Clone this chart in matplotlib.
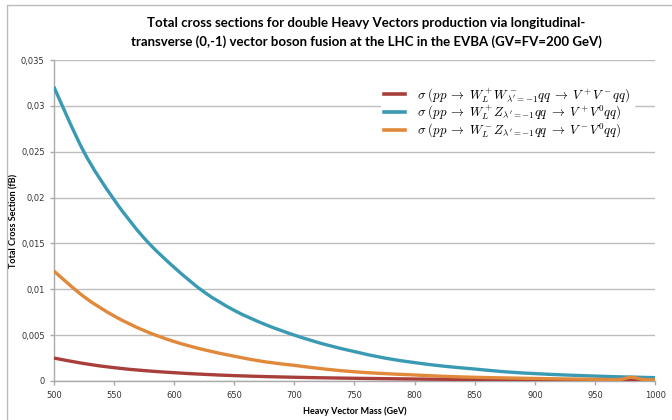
import matplotlib
matplotlib.use("Agg")
import matplotlib.pyplot as plt
import numpy as np
from matplotlib.lines import Line2D
from matplotlib.patches import PathPatch, Rectangle
from matplotlib.path import Path
from matplotlib.ticker import FuncFormatter, MultipleLocator

plt.rcParams['mathtext.fontset'] = 'cm'

# values (GeV, fb)
mass = [500, 525, 550, 575, 600, 625, 650, 675, 700, 725, 750,
        775, 800, 825, 850, 875, 900, 925, 950, 970, 980, 990, 1000]
sigma_ww = [0.0025, 0.0019, 0.00145, 0.00113, 0.0009, 0.00072, 0.00058,
            0.00048, 0.0004, 0.00034, 0.00029, 0.00025, 0.00021, 0.00018,
            0.00016, 0.00014, 0.00012, 0.00011, 0.0001, 0.00009, 0.00009,
            0.00008, 0.00008]
sigma_wz_plus = [0.0321, 0.0250, 0.0198, 0.0156, 0.0124, 0.0097, 0.0077,
                 0.0062, 0.0050, 0.0040, 0.0032, 0.0025, 0.0020, 0.0016,
                 0.0013, 0.0010, 0.0008, 0.00065, 0.00053, 0.00045, 0.00042,
                 0.00039, 0.00036]
sigma_wz_minus = [0.0120, 0.0092, 0.0071, 0.0055, 0.0043, 0.0034, 0.0027,
                  0.0021, 0.0017, 0.0013, 0.0010, 0.0008, 0.00065, 0.0005,
                  0.0004, 0.00033, 0.00027, 0.00022, 0.00018, 0.00016, 0.0004,
                  0.00016, 0.00012]

labels = [
    r"$\sigma\;(pp \;\rightarrow\; W_L^+ W^-_{\lambda'=-1}qq \;\rightarrow\; V^+V^-qq)$",
    r"$\sigma\;(pp \;\rightarrow\; W_L^+ Z_{\lambda'=-1}qq \;\rightarrow\; V^+V^0qq)$",
    r"$\sigma\;(pp \;\rightarrow\; W_L^- Z_{\lambda'=-1}qq \;\rightarrow\; V^-V^0qq)$",
]
colors = ['#A83F3B', '#3A9AB4', '#E0893A']


def smooth_path(x, y):
    """Excel-like smoothed line: Catmull-Rom segments as cubic beziers."""
    pts = np.column_stack([x, y]).astype(float)
    verts = [pts[0]]
    codes = [Path.MOVETO]
    n = len(pts)
    for i in range(n - 1):
        p0 = pts[max(i - 1, 0)]
        p1 = pts[i]
        p2 = pts[i + 1]
        p3 = pts[min(i + 2, n - 1)]
        verts += [p1 + (p2 - p0) / 6.0, p2 - (p3 - p1) / 6.0, p2]
        codes += [Path.CURVE4] * 3
    return Path(verts, codes)


fig = plt.figure(figsize=(6.72, 4.2), dpi=100)
fig.patches.append(Rectangle((0.011, -0.02), 1.0, 1.008, transform=fig.transFigure,
                             fill=False, edgecolor='#BBBBBB', linewidth=1.0))

ax = fig.add_axes([0.080, 0.093, 0.895, 0.764])

handles = []
for series, color, label in zip([sigma_ww, sigma_wz_plus, sigma_wz_minus], colors, labels):
    ax.add_patch(PathPatch(smooth_path(mass, series), fill=False, edgecolor=color,
                           linewidth=2.4, capstyle='butt', zorder=3))
    handles.append(Line2D([], [], color=color, linewidth=2.6, label=label))

ax.set_xlim(500, 1000)
ax.set_ylim(0, 0.035)
ax.xaxis.set_major_locator(MultipleLocator(50))
ax.yaxis.set_major_locator(MultipleLocator(0.005))
ax.yaxis.set_major_formatter(FuncFormatter(
    lambda v, pos: '0' if abs(v) < 1e-9 else ('%g' % round(v, 3)).replace('.', ',')))

ax.grid(axis='y', color='#BDBDBD', linewidth=1.0)
ax.set_axisbelow(True)
for side in ['top', 'right']:
    ax.spines[side].set_visible(False)
for side in ['left', 'bottom']:
    ax.spines[side].set_color('#AAAAAA')
    ax.spines[side].set_linewidth(1.0)
ax.tick_params(axis='both', labelsize=6, colors='#AAAAAA', labelcolor='#333333',
               length=3, width=1.0)
ax.tick_params(axis='x', pad=4)

ax.set_xlabel('Heavy Vector Mass (GeV)', fontsize=6.5, fontweight='bold',
              family='Lato', labelpad=5)
ax.set_ylabel('Total Cross Section (fB)', fontsize=6.5, fontweight='bold',
              family='Lato', labelpad=2)

fig.suptitle('Total cross sections for double Heavy Vectors production via longitudinal-\n'
             'transverse (0,-1) vector boson fusion at the LHC in the EVBA (GV=FV=200 GeV)',
             x=0.545, y=0.96, fontsize=9.5, fontweight='bold', family='Lato',
             linespacing=1.6)

leg = ax.legend(handles=handles, loc='upper right', bbox_to_anchor=(0.975, 0.95),
                fontsize=9.3, frameon=True, framealpha=1.0, edgecolor='white',
                fancybox=False, handlelength=1.6, handletextpad=0.9,
                labelspacing=0.0, borderpad=0.3)

fig.savefig('out.png', dpi=100)
